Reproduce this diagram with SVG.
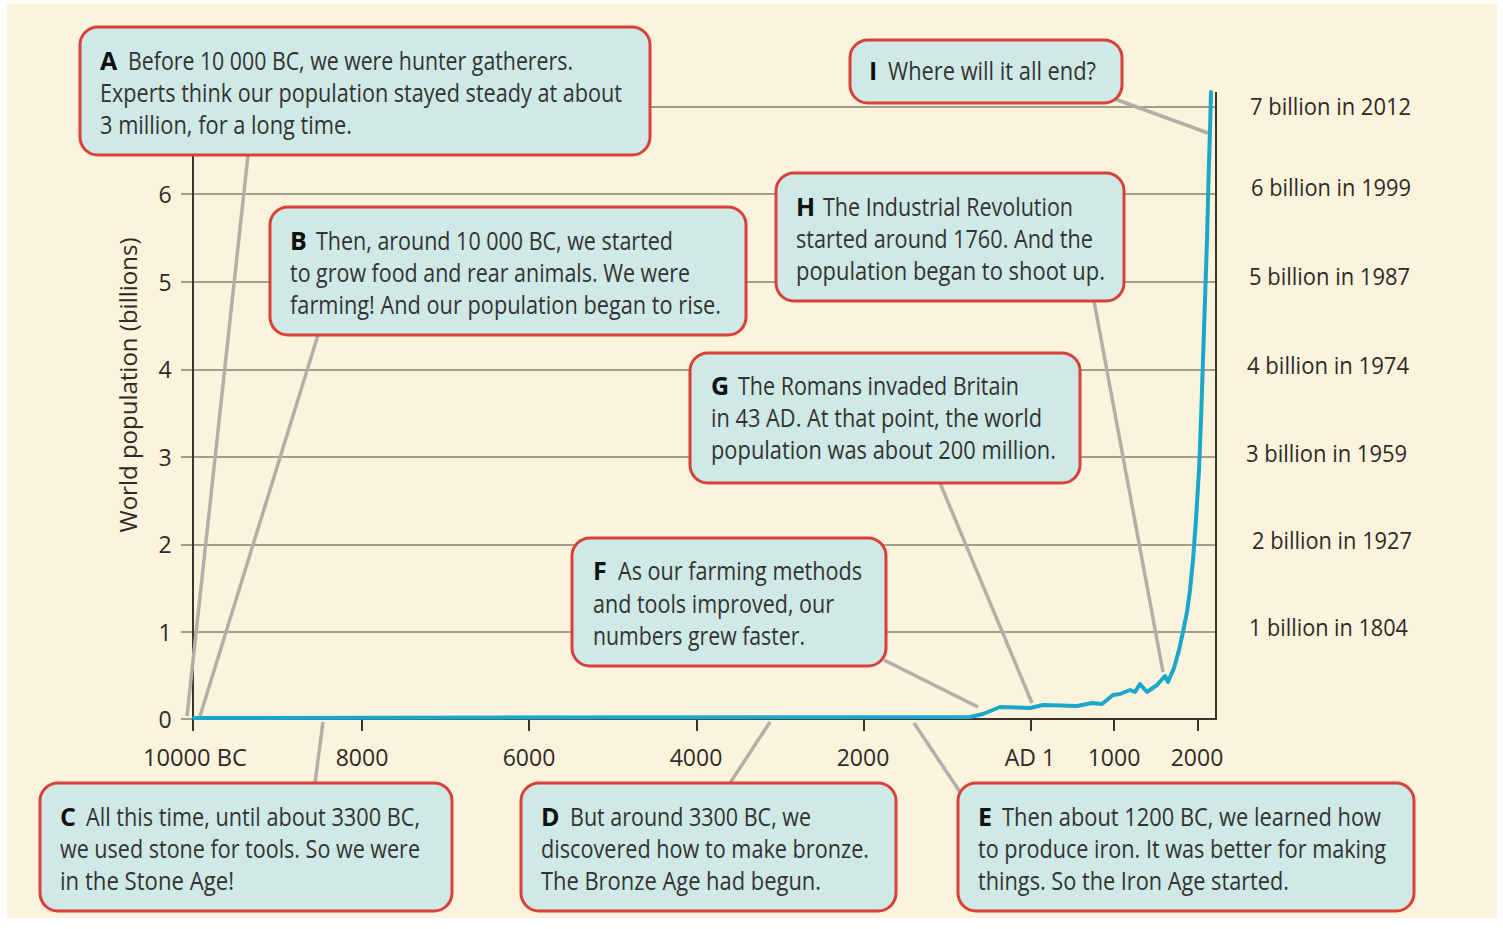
<svg xmlns="http://www.w3.org/2000/svg" width="1503" height="929" viewBox="0 0 1503 929">
<style>
.box{fill:#cfe9e6;stroke:#d8403a;stroke-width:3}
.t{font-family:"Open Sans","Liberation Sans",sans-serif;font-size:25px;fill:#333}
.b{font-family:"Open Sans","Liberation Sans",sans-serif;font-size:25px;font-weight:bold;fill:#111}
.lbl{font-family:"Open Sans","Liberation Sans",sans-serif;font-size:23px;fill:#2e2a26}
.conn{stroke:#b3afa8;stroke-width:3.5;fill:none}
.grid{stroke:#867f74;stroke-width:1.5}
.axis{stroke:#3b332c;stroke-width:2}
</style>
<rect x="0" y="0" width="1503" height="929" fill="#ffffff"/>
<rect x="7" y="4" width="1490" height="914" fill="#fcf3dd"/>

<g id="grid">
<line class="grid" x1="181" y1="107" x2="1216" y2="107"/>
<line class="grid" x1="181" y1="194" x2="1216" y2="194"/>
<line class="grid" x1="181" y1="282" x2="1216" y2="282"/>
<line class="grid" x1="181" y1="370" x2="1216" y2="370"/>
<line class="grid" x1="181" y1="457" x2="1216" y2="457"/>
<line class="grid" x1="181" y1="545" x2="1216" y2="545"/>
<line class="grid" x1="181" y1="632" x2="1216" y2="632"/>
<line class="grid" x1="181" y1="719" x2="1216" y2="719"/>
</g>

<g id="axes">
<line class="axis" x1="193" y1="155" x2="193" y2="731"/>
<line class="axis" x1="1216" y1="92" x2="1216" y2="720"/>
<line class="axis" x1="193" y1="719" x2="1216" y2="719"/>
<line class="axis" x1="362" y1="719" x2="362" y2="731"/>
<line class="axis" x1="529" y1="719" x2="529" y2="731"/>
<line class="axis" x1="697" y1="719" x2="697" y2="731"/>
<line class="axis" x1="864" y1="719" x2="864" y2="731"/>
<line class="axis" x1="1031" y1="719" x2="1031" y2="731"/>
<line class="axis" x1="1114" y1="719" x2="1114" y2="731"/>
<line class="axis" x1="1198" y1="719" x2="1198" y2="731"/>
<text class="lbl" x="165" y="203" text-anchor="middle">6</text>
<text class="lbl" x="165" y="291" text-anchor="middle">5</text>
<text class="lbl" x="165" y="378" text-anchor="middle">4</text>
<text class="lbl" x="165" y="466" text-anchor="middle">3</text>
<text class="lbl" x="165" y="553" text-anchor="middle">2</text>
<text class="lbl" x="165" y="641" text-anchor="middle">1</text>
<text class="lbl" x="165" y="728" text-anchor="middle">0</text>
<text class="lbl" x="195" y="766" text-anchor="middle" textLength="104" lengthAdjust="spacingAndGlyphs">10000 BC</text>
<text class="lbl" x="362" y="766" text-anchor="middle">8000</text>
<text class="lbl" x="529" y="766" text-anchor="middle">6000</text>
<text class="lbl" x="696" y="766" text-anchor="middle">4000</text>
<text class="lbl" x="863" y="766" text-anchor="middle">2000</text>
<text class="lbl" x="1030" y="766" text-anchor="middle">AD 1</text>
<text class="lbl" x="1114" y="766" text-anchor="middle">1000</text>
<text class="lbl" x="1197" y="766" text-anchor="middle">2000</text>
<text class="lbl" transform="translate(137,385) rotate(-90)" text-anchor="middle" textLength="295" lengthAdjust="spacingAndGlyphs">World population (billions)</text>
</g>

<g id="right-labels">
<text class="lbl" x="1250" y="115" textLength="161" lengthAdjust="spacingAndGlyphs">7 billion in 2012</text>
<text class="lbl" x="1251" y="196" textLength="160" lengthAdjust="spacingAndGlyphs">6 billion in 1999</text>
<text class="lbl" x="1249" y="285" textLength="161" lengthAdjust="spacingAndGlyphs">5 billion in 1987</text>
<text class="lbl" x="1247" y="374" textLength="162" lengthAdjust="spacingAndGlyphs">4 billion in 1974</text>
<text class="lbl" x="1246" y="462" textLength="161" lengthAdjust="spacingAndGlyphs">3 billion in 1959</text>
<text class="lbl" x="1252" y="549" textLength="160" lengthAdjust="spacingAndGlyphs">2 billion in 1927</text>
<text class="lbl" x="1249" y="636" textLength="159" lengthAdjust="spacingAndGlyphs">1 billion in 1804</text>
</g>

<g id="curve">
<polyline fill="none" stroke="#1aa7ca" stroke-width="4" stroke-linejoin="round" stroke-linecap="round" points="194,718 970,717 983,714 1000,707 1030,708 1043,705 1077,706 1092,703 1102,704 1113,695 1120,694 1130,690 1135,692 1140,684 1147,692 1157,685 1165,676 1168,682 1174,668 1179,650 1183,632 1187,612 1190,590 1193,560 1196,520 1199,470 1201,420 1203,360 1205,300 1207,240 1208.5,180 1210,130 1211,92"/>
</g>

<g id="connectors">
<line class="conn" x1="248" y1="155" x2="187" y2="716"/>
<line class="conn" x1="318" y1="335" x2="200" y2="716"/>
<line class="conn" x1="323" y1="722" x2="315" y2="783"/>
<line class="conn" x1="770" y1="722" x2="730" y2="783"/>
<line class="conn" x1="914" y1="723" x2="962" y2="795"/>
<line class="conn" x1="884" y1="660" x2="978" y2="707"/>
<line class="conn" x1="940" y1="483" x2="1032" y2="703"/>
<line class="conn" x1="1094" y1="301" x2="1163" y2="672"/>
<line class="conn" x1="1112" y1="98" x2="1208" y2="133"/>
</g>

<g id="node-A">
<rect class="box" x="80" y="27" width="570" height="128" rx="18"/>
<text class="b" x="100" y="70">A</text>
<text class="t" x="128" y="70" textLength="445" lengthAdjust="spacingAndGlyphs">Before 10 000 BC, we were hunter gatherers.</text>
<text class="t" x="100" y="102" textLength="522" lengthAdjust="spacingAndGlyphs">Experts think our population stayed steady at about</text>
<text class="t" x="100" y="134" textLength="252" lengthAdjust="spacingAndGlyphs">3 million, for a long time.</text>
</g>

<g id="node-I">
<rect class="box" x="850" y="40" width="272" height="63" rx="18"/>
<text class="b" x="869" y="80">I</text>
<text class="t" x="888" y="80" textLength="208" lengthAdjust="spacingAndGlyphs">Where will it all end?</text>
</g>

<g id="node-B">
<rect class="box" x="270" y="207" width="476" height="128" rx="18"/>
<text class="b" x="290" y="250">B</text>
<text class="t" x="316" y="250" textLength="357" lengthAdjust="spacingAndGlyphs">Then, around 10 000 BC, we started</text>
<text class="t" x="290" y="282" textLength="400" lengthAdjust="spacingAndGlyphs">to grow food and rear animals. We were</text>
<text class="t" x="290" y="314" textLength="431" lengthAdjust="spacingAndGlyphs">farming! And our population began to rise.</text>
</g>

<g id="node-H">
<rect class="box" x="776" y="173" width="348" height="128" rx="18"/>
<text class="b" x="796" y="216">H</text>
<text class="t" x="823" y="216" textLength="250" lengthAdjust="spacingAndGlyphs">The Industrial Revolution</text>
<text class="t" x="796" y="248" textLength="297" lengthAdjust="spacingAndGlyphs">started around 1760. And the</text>
<text class="t" x="796" y="280" textLength="309" lengthAdjust="spacingAndGlyphs">population began to shoot up.</text>
</g>

<g id="node-G">
<rect class="box" x="690" y="353" width="390" height="130" rx="18"/>
<text class="b" x="711" y="395">G</text>
<text class="t" x="738" y="395" textLength="281" lengthAdjust="spacingAndGlyphs">The Romans invaded Britain</text>
<text class="t" x="711" y="427" textLength="331" lengthAdjust="spacingAndGlyphs">in 43 AD. At that point, the world</text>
<text class="t" x="711" y="459" textLength="345" lengthAdjust="spacingAndGlyphs">population was about 200 million.</text>
</g>

<g id="node-F">
<rect class="box" x="572" y="538" width="314" height="128" rx="18"/>
<text class="b" x="593" y="580">F</text>
<text class="t" x="618" y="580" textLength="244" lengthAdjust="spacingAndGlyphs">As our farming methods</text>
<text class="t" x="593" y="613" textLength="241" lengthAdjust="spacingAndGlyphs">and tools improved, our</text>
<text class="t" x="593" y="645" textLength="212" lengthAdjust="spacingAndGlyphs">numbers grew faster.</text>
</g>

<g id="node-C">
<rect class="box" x="40" y="783" width="412" height="128" rx="18"/>
<text class="b" x="60" y="826">C</text>
<text class="t" x="86" y="826" textLength="334" lengthAdjust="spacingAndGlyphs">All this time, until about 3300 BC,</text>
<text class="t" x="60" y="858" textLength="360" lengthAdjust="spacingAndGlyphs">we used stone for tools. So we were</text>
<text class="t" x="60" y="890" textLength="174" lengthAdjust="spacingAndGlyphs">in the Stone Age!</text>
</g>

<g id="node-D">
<rect class="box" x="521" y="783" width="375" height="128" rx="18"/>
<text class="b" x="541" y="826">D</text>
<text class="t" x="570" y="826" textLength="241" lengthAdjust="spacingAndGlyphs">But around 3300 BC, we</text>
<text class="t" x="541" y="858" textLength="328" lengthAdjust="spacingAndGlyphs">discovered how to make bronze.</text>
<text class="t" x="541" y="890" textLength="280" lengthAdjust="spacingAndGlyphs">The Bronze Age had begun.</text>
</g>

<g id="node-E">
<rect class="box" x="958" y="783" width="456" height="128" rx="18"/>
<text class="b" x="978" y="826">E</text>
<text class="t" x="1002" y="826" textLength="379" lengthAdjust="spacingAndGlyphs">Then about 1200 BC, we learned how</text>
<text class="t" x="978" y="858" textLength="408" lengthAdjust="spacingAndGlyphs">to produce iron. It was better for making</text>
<text class="t" x="978" y="890" textLength="311" lengthAdjust="spacingAndGlyphs">things. So the Iron Age started.</text>
</g>
</svg>
